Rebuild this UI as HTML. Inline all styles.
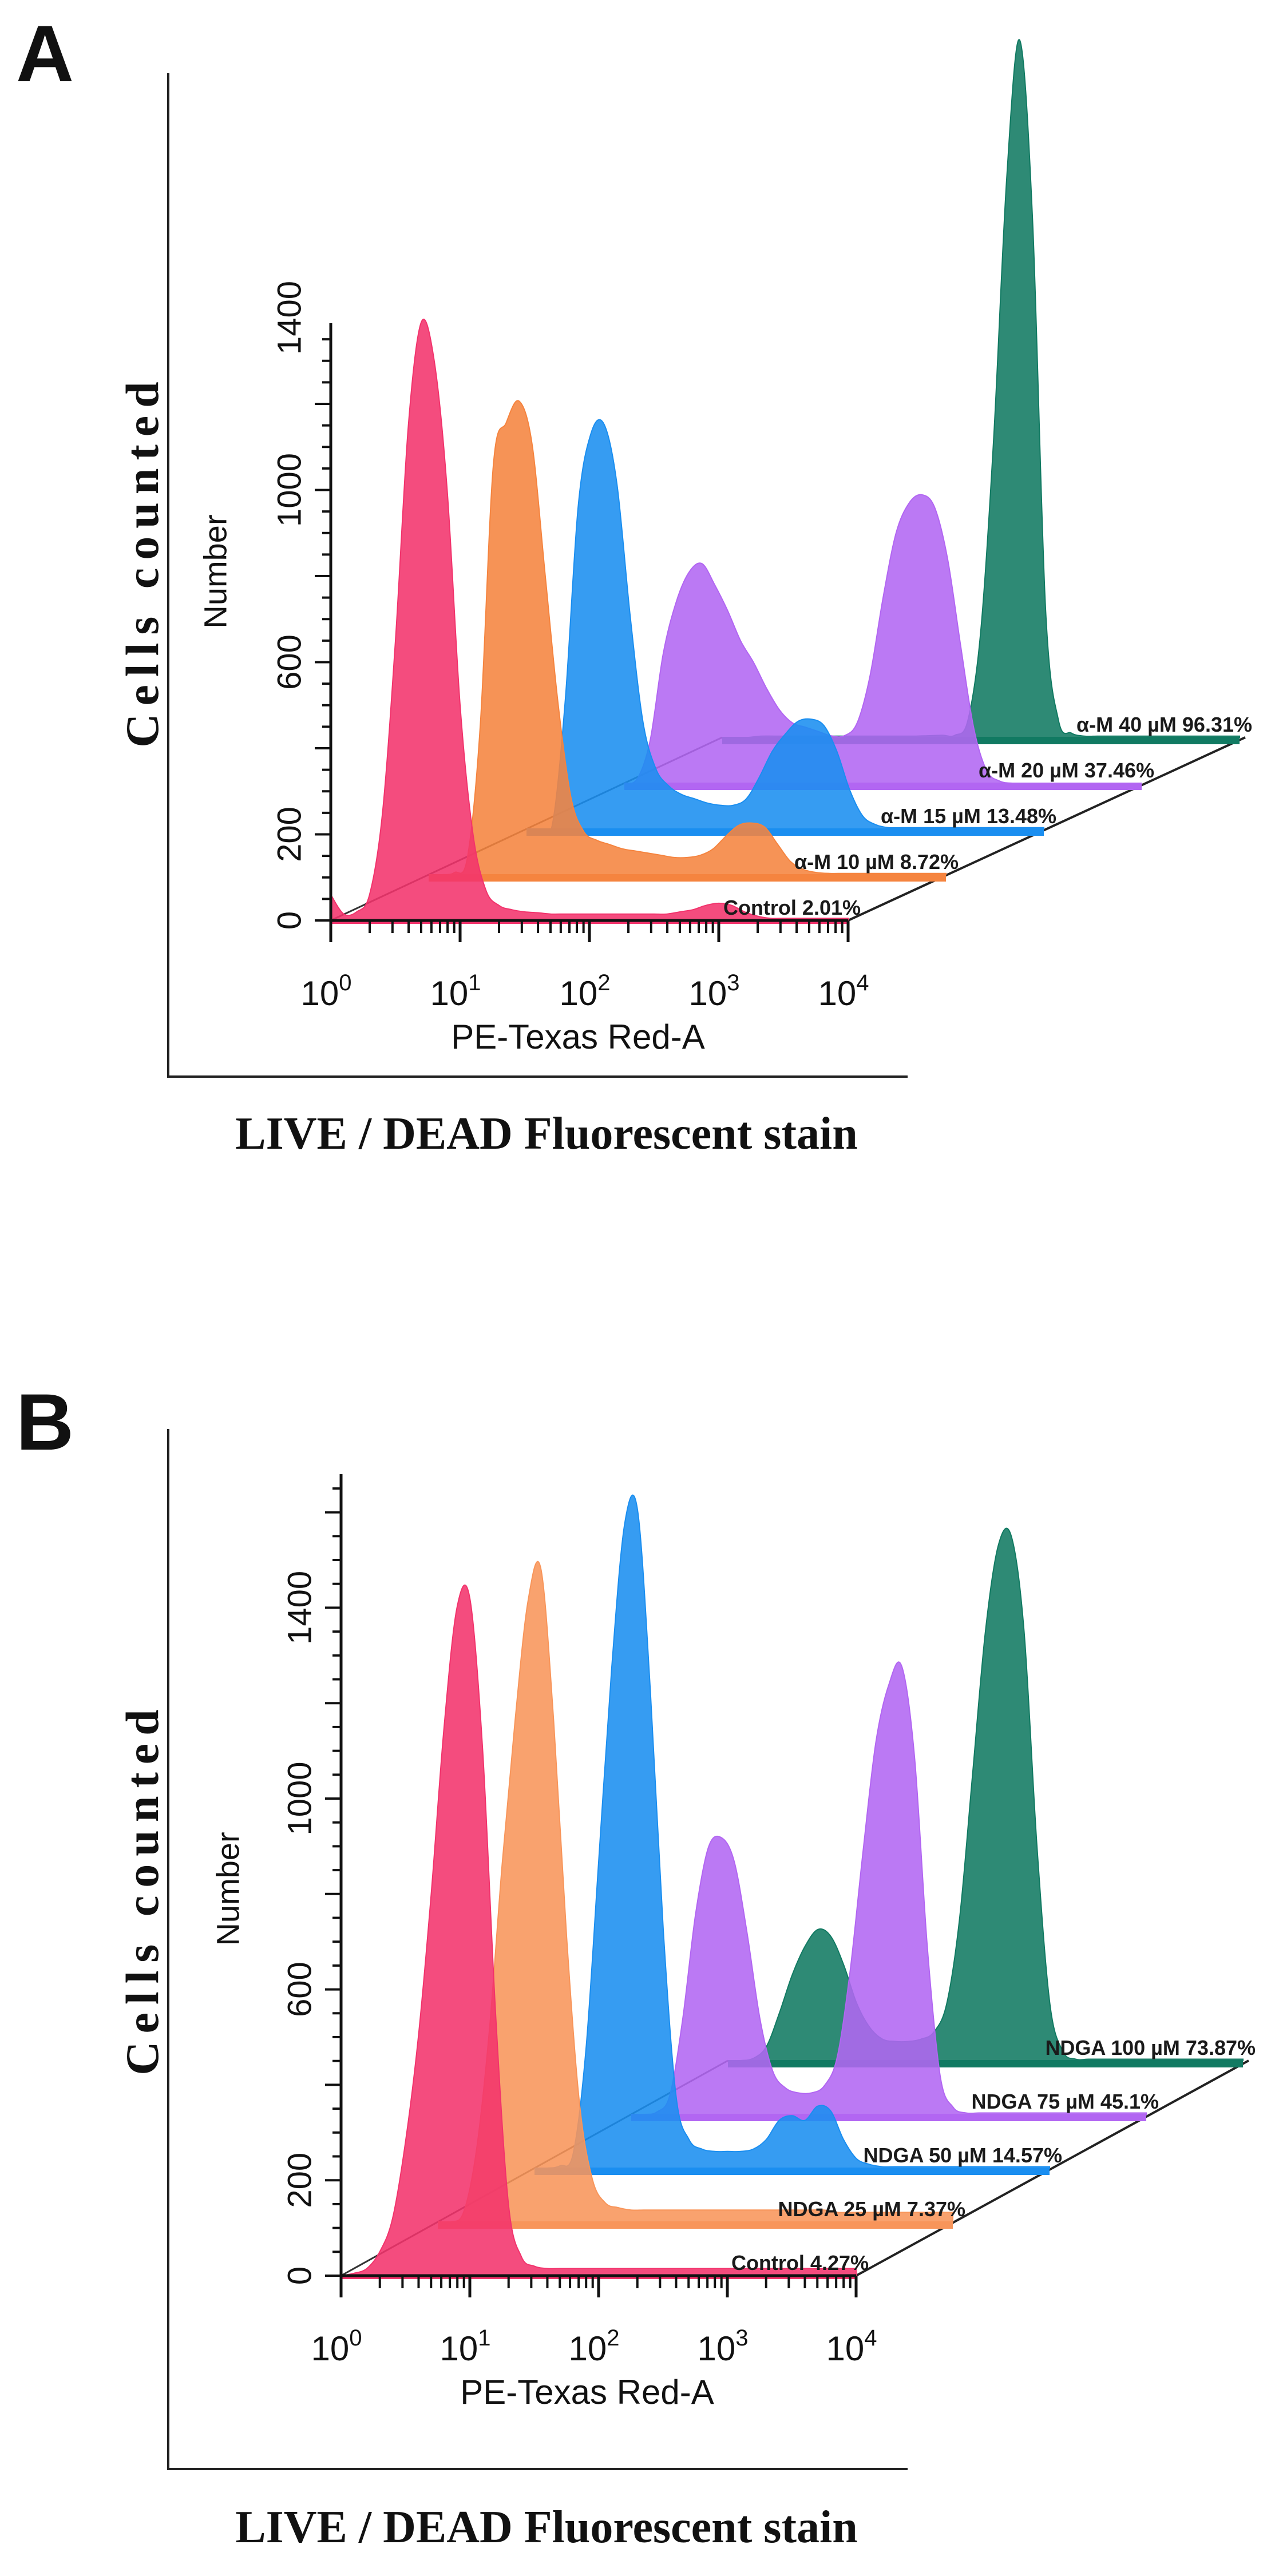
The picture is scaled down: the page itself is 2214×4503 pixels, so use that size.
<!DOCTYPE html>
<html><head><meta charset="utf-8"><style>
html,body{margin:0;padding:0;background:#fff}
svg{display:block}
</style></head><body>
<svg id="fig" width="2214" height="4503" viewBox="0 0 2214 4503" xmlns="http://www.w3.org/2000/svg">
<g id="root"></g>
</svg>
<script>
// ---- data: counts per 0.1-decade bin (log10 0.0 .. 4.0) ----
const decadeTicks = [0, 1, 2, 3, 4];
const yTicksA = [0, 200, 600, 1000, 1400];
const yTicksB = [0, 200, 600, 1000, 1400];
const labelsA = ["Control 2.01%", "α-M 10 µM 8.72%", "α-M 15 µM 13.48%", "α-M 20 µM 37.46%", "α-M 40 µM 96.31%"];
const labelsB = ["Control 4.27%", "NDGA 25 µM 7.37%", "NDGA 50 µM 14.57%", "NDGA 75 µM 45.1%", "NDGA 100 µM 73.87%"];
const aControl = [60,15,20,60,250,650,1150,1390,1300,1000,500,200,70,35,25,20,18,15,15,15,15,15,15,15,15,15,15,20,25,35,40,35,20,10,5,5,5,5,5,5,5];
const a10 = [0,0,5,40,350,950,1050,1100,1000,700,400,180,100,80,70,60,55,50,45,40,40,45,60,90,115,120,110,70,30,12,5,3,3,3,3,3,3,3,3,3,3];
const a15 = [0,0,10,300,750,920,940,800,500,250,140,100,80,70,60,55,55,70,120,180,220,250,255,240,180,90,30,10,3,3,3,3,3,3,3,3,3,3,3,3,3];
const a20 = [0,10,100,300,420,490,510,460,400,330,280,220,170,140,130,120,110,110,140,250,430,580,650,670,640,520,320,130,30,5,0,0,0,0,0,0,0,0,0,0,0];
const a40 = [0,0,0,3,3,3,3,3,3,3,3,3,3,3,3,3,4,5,5,40,250,700,1300,1620,1200,300,40,10,3,3,3,3,3,3,3,3,3,3,3,3,3];
const bControl = [0,5,15,50,120,280,500,800,1150,1400,1420,1100,550,150,40,20,15,15,15,15,15,15,15,15,15,15,15,15,15,15,15,15,15,15,15,15,15,15,15,15,15];
const b25 = [0,0,20,150,400,750,1050,1300,1370,1050,600,250,90,40,30,25,25,25,25,25,25,25,25,25,25,25,25,25,25,25,25,20,20,20,20,20,20,20,20,20,20];
const b50 = [0,0,5,30,250,650,1050,1350,1380,1000,500,150,60,40,35,35,35,40,60,100,110,100,130,120,60,20,8,3,3,3,3,3,3,3,3,3,3,3,3,3,3];
const b75 = [0,0,5,40,200,420,560,580,530,380,200,90,55,45,45,60,120,300,550,780,900,940,750,350,80,15,3,3,3,3,3,3,3,3,3,3,3,3,3,3,3];
const b100 = [0,0,5,30,100,180,240,275,260,200,120,70,45,40,40,45,60,120,300,600,900,1080,1100,900,450,120,20,3,3,3,3,3,3,3,3,3,3,3,3,3,3];

const colorsA = ["#f2336c", "#f5843f", "#1a8ef0", "#b266f2", "#117a62"];
const colorsB = ["#f2336c", "#f8955a", "#1a8ef0", "#b266f2", "#117a62"];

const NS = "http://www.w3.org/2000/svg";
const root = document.getElementById("root");
function mk(tag, attrs, parent) {
  const e = document.createElementNS(NS, tag);
  for (const k in attrs) e.setAttribute(k, attrs[k]);
  (parent || root).appendChild(e);
  return e;
}
function catmull(pts) {
  let d = "M" + pts[0][0].toFixed(1) + "," + pts[0][1].toFixed(1);
  for (let i = 0; i < pts.length - 1; i++) {
    const p0 = pts[i - 1] || pts[i], p1 = pts[i], p2 = pts[i + 1], p3 = pts[i + 2] || p2;
    const c1 = [p1[0] + (p2[0] - p0[0]) / 6, p1[1] + (p2[1] - p0[1]) / 6];
    const c2 = [p2[0] - (p3[0] - p1[0]) / 6, p2[1] - (p3[1] - p1[1]) / 6];
    d += " C" + c1[0].toFixed(1) + "," + c1[1].toFixed(1) + " " + c2[0].toFixed(1) + "," + c2[1].toFixed(1) + " " + p2[0].toFixed(1) + "," + p2[1].toFixed(1);
  }
  return d;
}

function panel(cfg) {
  const g = mk("g", {});
  
  
  const x = v => cfg.x0 + v * cfg.dec;          // log10 value -> px
  const y = v => cfg.y0 - v * cfg.ypx;          // count -> px
  const W = 4 * cfg.dec;

  // panel letter
  const L = mk("text", {x: 28, y: cfg.letterY, "font-family": "Liberation Sans, sans-serif", "font-weight": "bold", "font-size": 140, fill: "#111"}, g);
  L.textContent = cfg.letter;
  
  

  // outer frame
  const fr = mk("path", {d: `M294,${cfg.frameTop} V${cfg.frameBot} H1586`, stroke: "#222", "stroke-width": 4, fill: "none"}, g);
  
  

  const ct = mk("text", {x: 0, y: 0, transform: `translate(276,${cfg.cellsY}) rotate(-90)`, "text-anchor": "middle", "font-family": "Liberation Serif, serif", "font-weight": "bold", "font-size": 82, "letter-spacing": 14, fill: "#111"}, g);
  ct.textContent = "Cells counted";
  
  

  const lt = mk("text", {x: 955, y: cfg.liveY, "text-anchor": "middle", "font-family": "Liberation Serif, serif", "font-weight": "bold", "font-size": 80, fill: "#111"}, g);
  lt.textContent = "LIVE / DEAD Fluorescent stain";
  
  

  // diagonal guide lines
  const n = cfg.series.length;
  const d1 = mk("line", {x1: x(0), y1: cfg.y0, x2: x(0) + (n - 1) * cfg.dx, y2: cfg.y0 + (n - 1) * cfg.dy, stroke: "#333", "stroke-width": 3}, g);
  
  
  const d2 = mk("line", {x1: x(4), y1: cfg.y0, x2: x(4) + (n - 1) * cfg.dx + 10, y2: cfg.y0 + (n - 1) * cfg.dy, stroke: "#222", "stroke-width": 4}, g);
  
  

  // series back to front
  for (let k = n - 1; k >= 0; k--) {
    const ox = k * cfg.dx, oy = k * cfg.dy;
    const vals = cfg.series[k];
    const pts = vals.map((v, i) => [x(i * 0.1) + ox, y(v) + oy]);
    const base = cfg.y0 + oy;
    let d = catmull(pts);
    d += ` L${(x(4) + ox).toFixed(1)},${base} L${(x(0) + ox).toFixed(1)},${base} Z`;
    const p = mk("path", {d: d, fill: cfg.colors[k], "fill-opacity": 0.88, stroke: cfg.colors[k], "stroke-width": 2}, g);
    
    
    const s = mk("rect", {x: x(0) + ox, y: base, width: W, height: k === 0 ? 6 : 12, fill: cfg.colors[k]}, g);
    
    
  }
  for (let k = 0; k < n; k++) {
    const t = mk("text", {x: x(4) + k * cfg.dx + 22, y: cfg.y0 + k * cfg.dy - 10, "text-anchor": "end", "font-family": "Liberation Sans, sans-serif", "font-weight": "bold", "font-size": 36, fill: "#1a1a1a"}, g);
    t.textContent = cfg.labels[k];
    
    
  }

  // y axis
  const ya = mk("line", {x1: cfg.x0, y1: cfg.axisTop, x2: cfg.x0, y2: cfg.y0 + 2, stroke: "#111", "stroke-width": 5}, g);
  
  
  const ymax = (cfg.y0 - cfg.axisTop) / cfg.ypx;
  for (let v = 0; v <= ymax; v += 50) {
    const major = v % 200 === 0;
    const tk = mk("line", {x1: cfg.x0, x2: cfg.x0 - (major ? 28 : 15), y1: y(v), y2: y(v), stroke: "#111", "stroke-width": 4}, g);
    
    
  }
  cfg.yTicks.forEach(v => {
    const t = mk("text", {x: 0, y: 0, transform: `translate(${cfg.x0 - 72},${y(v)}) rotate(-90)`, "text-anchor": "middle", "dominant-baseline": "central", "font-family": "Liberation Sans, sans-serif", "font-size": 58, fill: "#111"}, g);
    t.textContent = v;
    
    
  });
  const nt = mk("text", {x: 0, y: 0, transform: `translate(${cfg.numX},${cfg.y0 - 610 * cfg.ypx / 0.7525}) rotate(-90)`, "text-anchor": "middle", "dominant-baseline": "central", "font-family": "Liberation Sans, sans-serif", "font-size": 56, fill: "#111"}, g);
  nt.textContent = "Number";
  
  

  // x axis
  const xa = mk("line", {x1: cfg.x0 - 2, y1: cfg.y0, x2: x(4), y2: cfg.y0, stroke: "#111", "stroke-width": 5}, g);
  
  
  for (let dcd = 0; dcd < 4; dcd++) {
    for (let m = 2; m <= 9; m++) {
      const xv = x(dcd + Math.log10(m));
      const tk = mk("line", {x1: xv, x2: xv, y1: cfg.y0, y2: cfg.y0 + 22, stroke: "#111", "stroke-width": 4}, g);
      
      
    }
  }
  decadeTicks.forEach(dv => {
    const tk = mk("line", {x1: x(dv), x2: x(dv), y1: cfg.y0, y2: cfg.y0 + 38, stroke: "#111", "stroke-width": 5}, g);
    
    
    const t = mk("text", {x: x(dv) - 8, y: cfg.y0 + 148, "text-anchor": "middle", "font-family": "Liberation Sans, sans-serif", "font-size": 60, fill: "#111"}, g);
    
    
    t.appendChild(document.createTextNode("10"));
    const sup = mk("tspan", {dy: -26, "font-size": 40}, t);
    sup.textContent = dv;
  });
  const xt = mk("text", {x: x(2) - 20, y: cfg.y0 + 224, "text-anchor": "middle", "font-family": "Liberation Sans, sans-serif", "font-size": 60, fill: "#111"}, g);
  xt.textContent = "PE-Texas Red-A";
  
  
}

panel({name: "panel-a", letter: "A", letterY: 142, frameTop: 128, frameBot: 1882, cellsY: 980, liveY: 2008,
  x0: 578, y0: 1609, dec: 226, ypx: 0.7525, dx: 171, dy: -80, axisTop: 565, numX: 376,
  series: [aControl, a10, a15, a20, a40], colors: colorsA, labels: labelsA, yTicks: yTicksA});
panel({name: "panel-b", letter: "B", letterY: 2534, frameTop: 2498, frameBot: 4316, cellsY: 3301, liveY: 4444,
  x0: 596, y0: 3978, dec: 225, ypx: 0.834, dx: 169, dy: -94, axisTop: 2577, numX: 398,
  series: [bControl, b25, b50, b75, b100], colors: colorsB, labels: labelsB, yTicks: yTicksB});
</script>
</body></html>
